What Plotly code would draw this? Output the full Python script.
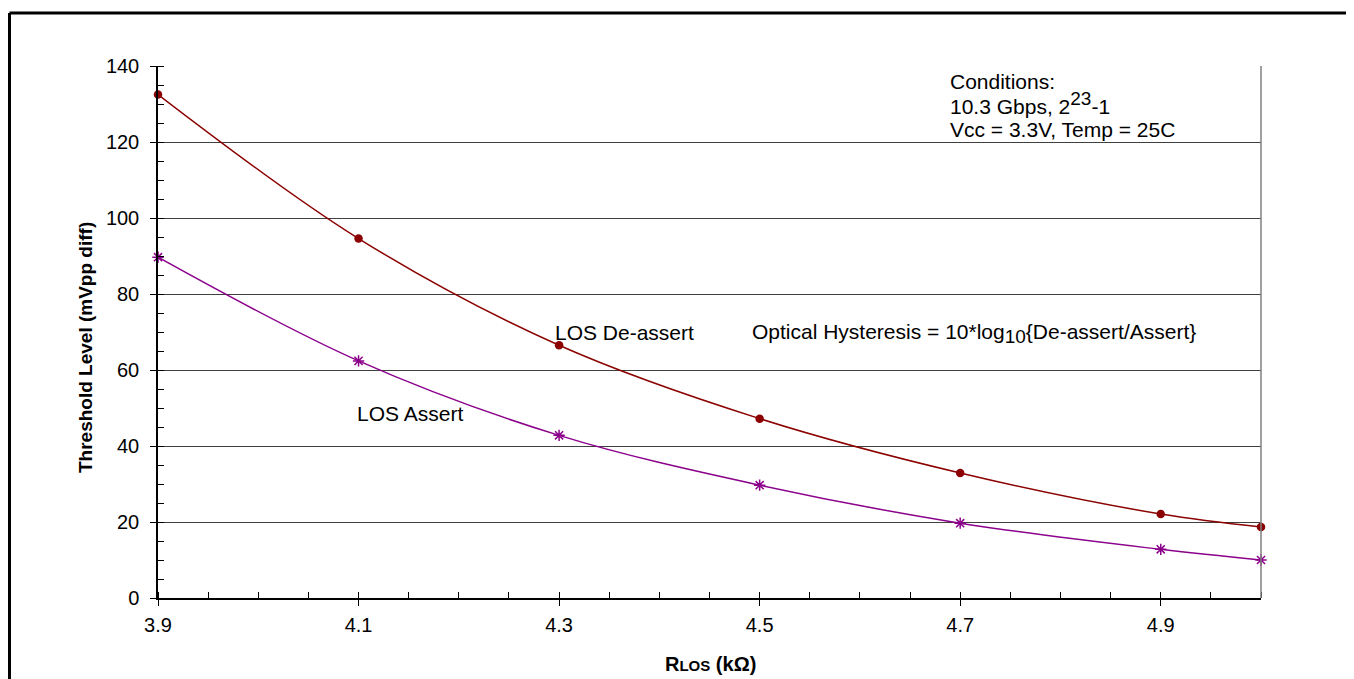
import plotly.graph_objects as go

# Data
r_los = [3.9, 4.1, 4.3, 4.5, 4.7, 4.9, 5.0]
los_deassert = [132.5, 94.6, 66.5, 47.2, 32.9, 22.1, 18.7]
los_assert = [89.7, 62.4, 42.8, 29.7, 19.7, 12.8, 10.0]
y_ticks = [0, 20, 40, 60, 80, 100, 120, 140]
x_ticks = [3.9, 4.1, 4.3, 4.5, 4.7, 4.9]

FONT = "Arial, Liberation Sans, sans-serif"
OFF = 8  # page body margin
L, R, T, B = 150, 101, 58, 89
W, H = 1354, 679
PW, PH = W - L - R, H - T - B


def px(X):
    """screen x -> paper x"""
    return (X - OFF - L) / PW


def py(Y):
    """screen y -> paper y"""
    return (H - B - (Y - OFF)) / PH


fig = go.Figure()
fig.add_trace(go.Scatter(
    x=r_los, y=los_deassert, mode="lines+markers", name="LOS De-assert",
    line=dict(color="#8B0000", width=1.5, shape="spline", smoothing=1.0),
    marker=dict(symbol="circle", size=8.5, color="#8B0000"),
    cliponaxis=False,
))
fig.add_trace(go.Scatter(
    x=r_los, y=los_assert, mode="lines+markers", name="LOS Assert",
    line=dict(color="#8B008B", width=1.5, shape="spline", smoothing=1.0),
    marker=dict(symbol="asterisk-open", size=9.5, color="#8B008B",
                line=dict(color="#8B008B", width=1.5)),
    cliponaxis=False,
))

fig.update_layout(
    width=W, height=H,
    margin=dict(l=L, r=R, t=T, b=B, autoexpand=False),
    paper_bgcolor="white", plot_bgcolor="white",
    showlegend=False,
    font=dict(family=FONT, size=20, color="black"),
)
fig.update_xaxes(
    range=[3.9, 5.0], tickvals=x_ticks, ticktext=[f"{v:.1f}" for v in x_ticks],
    ticks="outside", ticklen=6, tickwidth=1, tickcolor="black",
    ticklabelstandoff=2,
    showline=True, linecolor="black", linewidth=1.5,
    showgrid=False, zeroline=False,
    tickfont=dict(size=20, family=FONT),
    minor=dict(dtick=0.05, tick0=3.9, ticks="inside", ticklen=6, tickcolor="black", showgrid=False),
)
fig.update_yaxes(
    range=[0, 140], tickvals=y_ticks,
    ticks="outside", ticklen=6, tickwidth=1, tickcolor="black",
    ticklabelstandoff=7,
    showline=True, linecolor="black", linewidth=1.5,
    showgrid=True, gridcolor="#404040", gridwidth=1, zeroline=False,
    tickfont=dict(size=20, family=FONT),
    minor=dict(dtick=5, ticks="inside", ticklen=6, tickcolor="black", showgrid=False),
)

# plot area right border (grey)
fig.add_shape(type="line", xref="paper", yref="paper", x0=1, x1=1, y0=0, y1=1,
              line=dict(color="#808080", width=1.5))
# outer frame (top and left)
fig.add_shape(type="line", xref="paper", yref="paper", x0=px(9.5), x1=px(1370), y0=py(13), y1=py(13),
              line=dict(color="black", width=3))
fig.add_shape(type="line", xref="paper", yref="paper", x0=px(9.5), x1=px(9.5), y0=py(13), y1=py(700),
              line=dict(color="black", width=3))

ann = dict(showarrow=False, font=dict(family=FONT, size=21, color="black"))
fig.add_annotation(x=4.294, y=69.9, text="LOS De-assert", xanchor="left", yanchor="middle", **ann)
fig.add_annotation(x=4.096, y=48.6, text="LOS Assert", xanchor="left", yanchor="middle", **ann)
fig.add_annotation(x=4.49, y=69.6,
                   text="Optical Hysteresis = 10*log<sub><span style='font-size:19px'>10</span></sub>{De-assert/Assert}",
                   xanchor="left", yanchor="middle", **ann)
fig.add_annotation(x=4.688, y=135.8, text="Conditions:", xanchor="left", yanchor="middle", **ann)
fig.add_annotation(x=4.688, y=130.3,
                   text="10.3 Gbps, 2<sup><span style='font-size:19px'>23</span></sup>-1",
                   xanchor="left", yanchor="middle", **ann)
fig.add_annotation(x=4.688, y=123.2, text="Vcc = 3.3V, Temp = 25C", xanchor="left", yanchor="middle", **ann)

# axis titles
fig.add_annotation(xref="paper", yref="paper", x=px(85), y=py(348), textangle=-90,
                   text="<b>Threshold Level (mVpp diff)</b>", xanchor="center", yanchor="middle",
                   showarrow=False, font=dict(family=FONT, size=19, color="black"))
fig.add_annotation(xref="paper", yref="paper", x=px(710), y=py(664),
                   text="<b>R<span style='font-size:15px'>LOS</span> (kΩ)</b>", xanchor="center", yanchor="middle",
                   showarrow=False, font=dict(family=FONT, size=20, color="black"))

fig.write_html("out.html")
